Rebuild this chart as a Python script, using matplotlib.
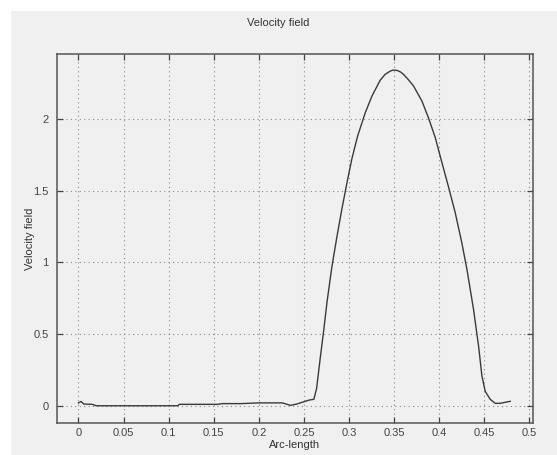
import matplotlib
matplotlib.use("Agg")
import matplotlib.pyplot as plt
from matplotlib.patches import Rectangle

plt.rcParams['font.family'] = ['Liberation Sans', 'DejaVu Sans']

# arc-length / velocity values
arc = [0.0, 0.003, 0.006, 0.015, 0.02, 0.05, 0.08, 0.11, 0.112, 0.13, 0.154,
       0.16, 0.18, 0.2, 0.226, 0.235, 0.242, 0.25, 0.256, 0.261, 0.264,
       0.268, 0.272, 0.2755, 0.281, 0.2866, 0.292, 0.2977, 0.303, 0.3095,
       0.318, 0.3254, 0.3346, 0.34, 0.3457, 0.349, 0.353, 0.357, 0.3604,
       0.3655, 0.3715, 0.3808, 0.388,
       0.3956, 0.401, 0.41, 0.4177, 0.425, 0.4307, 0.438, 0.4436, 0.4473,
       0.451, 0.4565, 0.462, 0.4676, 0.473, 0.4787]
vel = [0.02, 0.03, 0.012, 0.01, 0.0, 0.0, 0.0, 0.0, 0.01, 0.01, 0.01,
       0.015, 0.015, 0.02, 0.02, 0.003, 0.012, 0.028, 0.04, 0.045, 0.12,
       0.33, 0.53, 0.72, 0.97, 1.18, 1.37, 1.555, 1.718, 1.88,
       2.043, 2.159, 2.27, 2.31, 2.333, 2.34, 2.338, 2.327, 2.31,
       2.275, 2.229, 2.124, 2.008,
       1.869, 1.741, 1.532, 1.346, 1.137, 0.951, 0.672, 0.417, 0.208,
       0.1, 0.045, 0.017, 0.017, 0.024, 0.031]

xticks = [0, 0.05, 0.1, 0.15, 0.2, 0.25, 0.3, 0.35, 0.4, 0.45, 0.5]
xticklabels = ["0", "0.05", "0.1", "0.15", "0.2", "0.25", "0.3", "0.35", "0.4", "0.45", "0.5"]
yticks = [0, 0.5, 1, 1.5, 2]
yticklabels = ["0", "0.5", "1", "1.5", "2"]

bg = "#f0f0f0"
fig = plt.figure(figsize=(5.57, 4.55), dpi=100)
fig.patch.set_facecolor("white")
fig.add_artist(Rectangle((0.0197, 0), 0.9803, 0.9758, transform=fig.transFigure,
                         facecolor=bg, edgecolor="none", zorder=-10))

ax = fig.add_axes([0.102, 0.071, 0.855, 0.8097])
ax.set_facecolor(bg)
ax.plot(arc, vel, color="#3a3a3a", lw=1.0)

ax.set_xlim(-0.024, 0.504)
ax.set_ylim(-0.118, 2.45)
ax.set_xticks(xticks)
ax.set_xticklabels(xticklabels)
ax.set_yticks(yticks)
ax.set_yticklabels(yticklabels)
ax.grid(True, linestyle=(0, (1, 3)), color="#888888", lw=0.8)
ax.tick_params(direction="in", length=4, width=0.9, top=True, right=True,
               labelsize=8, colors="#444444")
ax.tick_params(axis="x", pad=3.5)
ax.tick_params(axis="y", pad=6)
for s in ax.spines.values():
    s.set_color("#555555")
    s.set_linewidth(1.1)

ax.set_xlabel("Arc-length", fontsize=8, color="#333333", labelpad=1.5)
ax.set_ylabel("Velocity field", fontsize=8, color="#333333", labelpad=-1.5)
fig.text(0.5, 0.95, "Velocity field", ha="center", va="center",
         fontsize=8, color="#333333")

fig.savefig("out.png", dpi=100, facecolor=fig.get_facecolor())
